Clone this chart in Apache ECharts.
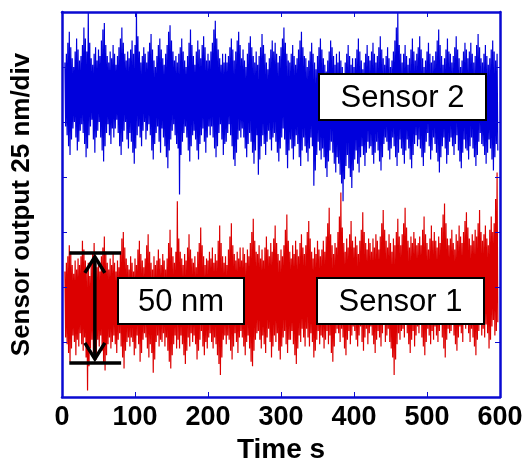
<!DOCTYPE html>
<html>
<head>
<meta charset="utf-8">
<script src="https://cdn.jsdelivr.net/npm/echarts@6/dist/echarts.min.js"></script>
<style>
  html, body { margin: 0; padding: 0; background: #ffffff; }
  #chart { width: 529px; height: 462px; }
</style>
</head>
<body>
<div id="chart"></div>
<script>
// Sampling of the recorded traces: peak sample at START + STEP*k, trough sample half a step later
const START_S = 4;
const STEP_S = 2;

// Sensor 1 output (nm): successive peaks and troughs
const sensor1Peaks = [
  57, 61, 64, 69, 66, 60, 56, 62, 58, 63, 60,
  64, 71, 67, 62, 58, 61, 55, 60, 65, 70, 63,
  59, 62, 57, 64, 68, 73, 66, 61, 58, 63, 60,
  65, 61, 57, 62, 59, 66, 72, 75, 68, 63, 60,
  58, 64, 61, 57, 63, 60, 67, 71, 65, 62, 59,
  63, 69, 74, 66, 61, 58, 64, 60, 62, 67, 63,
  60, 65, 62, 58, 63, 70, 76, 68, 64, 61, 66,
  89, 72, 66, 63, 60, 65, 62, 68, 74, 67, 63,
  61, 64, 59, 66, 70, 77, 69, 64, 60, 63, 62,
  66, 63, 68, 61, 65, 62, 71, 78, 70, 64, 61,
  64, 60, 67, 73, 79, 69, 65, 62, 66, 63, 68,
  62, 68, 65, 61, 67, 64, 70, 75, 81, 71, 66,
  65, 69, 63, 67, 62, 68, 73, 67, 64, 70, 66,
  72, 78, 70, 65, 62, 67, 64, 69, 76, 83, 71,
  66, 63, 69, 65, 71, 67, 64, 70, 74, 68, 65,
  69, 75, 80, 72, 66, 63, 68, 65, 71, 67, 64,
  67, 71, 66, 73, 79, 86, 74, 69, 65, 70, 68,
  75, 82, 93, 77, 70, 66, 72, 68, 74, 80, 71,
  68, 73, 69, 65, 71, 76, 84, 75, 70, 67, 72,
  70, 66, 72, 68, 74, 71, 67, 73, 79, 85, 76,
  71, 68, 74, 70, 66, 72, 69, 75, 81, 73, 69,
  74, 79, 86, 77, 71, 68, 73, 70, 75, 72, 69,
  70, 73, 69, 76, 82, 74, 70, 67, 72, 78, 71,
  75, 71, 68, 73, 70, 77, 83, 88, 79, 72, 69,
  72, 76, 70, 67, 74, 71, 78, 73, 70, 75, 80,
  84, 77, 72, 69, 74, 71, 76, 73, 79, 85, 75,
  71, 74, 78, 72, 69, 76, 82, 75, 79, 90, 102
];
const sensor1Troughs = [
  27, 24, 20, 16, 22, 28, 25, 19, 26, 23, 29,
  24, 21, 27, 18, 3, 14, 22, 26, 20, 25, 17,
  26, 23, 28, 21, 15, 12, 19, 24, 27, 22, 25,
  28, 24, 20, 26, 29, 23, 18, 13, 21, 25, 27,
  23, 27, 25, 19, 22, 28, 24, 16, 20, 26, 29,
  27, 22, 18, 24, 20, 11, 17, 25, 28, 23, 26,
  25, 29, 23, 27, 21, 16, 13, 19, 24, 28, 22,
  26, 22, 28, 24, 19, 15, 21, 27, 23, 29, 25,
  28, 24, 17, 21, 26, 30, 23, 19, 25, 22, 27,
  29, 25, 22, 27, 24, 19, 15, 10, 18, 26, 28,
  24, 28, 26, 21, 17, 23, 29, 25, 20, 27, 30,
  27, 23, 19, 25, 28, 22, 16, 14, 21, 26, 29,
  30, 26, 22, 28, 24, 20, 27, 31, 25, 18, 23,
  28, 25, 29, 21, 17, 23, 27, 30, 24, 20, 26,
  26, 30, 24, 19, 15, 22, 28, 25, 31, 27, 23,
  31, 27, 23, 29, 25, 18, 21, 26, 30, 24, 28,
  27, 22, 26, 30, 24, 28, 20, 16, 23, 29, 31,
  29, 25, 31, 27, 22, 19, 26, 30, 24, 28, 32,
  30, 26, 23, 28, 32, 25, 21, 27, 31, 24, 29,
  32, 28, 24, 20, 26, 30, 27, 23, 29, 33, 25,
  28, 31, 25, 22, 18, 10, 17, 24, 29, 26, 30,
  31, 27, 33, 29, 24, 20, 26, 30, 23, 28, 32,
  29, 33, 27, 23, 19, 25, 31, 28, 24, 30, 26,
  32, 28, 25, 30, 34, 27, 22, 18, 26, 31, 29,
  30, 34, 28, 24, 21, 27, 32, 29, 25, 33, 31,
  33, 29, 25, 31, 27, 23, 19, 26, 30, 34, 28,
  31, 27, 33, 29, 22, 26, 32, 35, 28, 30, 34
];

// Sensor 2 output (nm): successive peaks and troughs
const sensor2Peaks = [
  152, 156, 161, 166, 159, 154, 150, 157, 163, 158, 153,
  155, 160, 168, 163, 157, 175, 161, 154, 151, 156, 159,
  153, 158, 155, 162, 167, 170, 160, 155, 152, 157, 154,
  160, 156, 151, 155, 159, 163, 168, 161, 156, 153, 157,
  154, 158, 162, 156, 160, 175, 164, 157, 152, 155, 159,
  156, 152, 157, 161, 165, 158, 153, 150, 155, 160, 163,
  158, 154, 151, 156, 160, 166, 169, 162, 157, 153, 155,
  152, 156, 159, 163, 157, 153, 150, 155, 161, 167, 160,
  155, 151, 157, 162, 158, 154, 160, 164, 159, 153, 156,
  153, 157, 161, 167, 171, 163, 158, 154, 151, 156, 152,
  156, 152, 155, 159, 163, 158, 153, 157, 162, 166, 160,
  154, 158, 153, 150, 156, 161, 164, 159, 155, 152, 157,
  151, 155, 159, 165, 160, 156, 152, 149, 154, 158, 162,
  157, 161, 156, 152, 155, 159, 163, 168, 161, 156, 153,
  152, 156, 160, 155, 151, 154, 158, 162, 166, 159, 155,
  154, 150, 153, 157, 161, 156, 152, 149, 155, 159, 163,
  158, 154, 151, 148, 153, 157, 162, 159, 155, 151, 156,
  152, 157, 153, 150, 147, 152, 156, 160, 155, 151, 154,
  150, 154, 158, 163, 157, 153, 149, 152, 156, 160, 155,
  153, 157, 161, 156, 152, 155, 159, 164, 158, 154, 151,
  155, 159, 154, 150, 153, 157, 162, 168, 175, 160, 156,
  152, 156, 160, 155, 151, 154, 158, 163, 157, 153, 156,
  159, 164, 158, 154, 150, 153, 157, 161, 156, 152, 155,
  153, 157, 162, 167, 160, 155, 151, 154, 158, 163, 157,
  156, 152, 155, 159, 164, 158, 154, 150, 153, 157, 161,
  158, 154, 157, 161, 156, 152, 155, 160, 165, 159, 154,
  152, 156, 160, 155, 151, 154, 158, 162, 157, 153, 156
];
const sensor2Troughs = [
  123, 119, 114, 110, 117, 122, 125, 118, 112, 116, 121,
  124, 120, 115, 109, 113, 119, 123, 126, 117, 111, 118,
  121, 125, 118, 112, 107, 114, 120, 124, 119, 115, 122,
  118, 122, 126, 120, 114, 110, 116, 121, 125, 117, 113,
  120, 116, 111, 106, 113, 119, 123, 118, 114, 121, 125,
  117, 121, 124, 119, 112, 108, 115, 120, 123, 116, 111,
  122, 118, 114, 109, 104, 112, 117, 121, 124, 119, 115,
  113, 92, 110, 116, 120, 123, 118, 112, 107, 114, 119,
  121, 117, 112, 108, 115, 119, 122, 116, 111, 118, 123,
  119, 123, 118, 113, 109, 114, 120, 124, 117, 110, 115,
  116, 120, 124, 119, 114, 108, 105, 111, 117, 121, 118,
  122, 118, 113, 109, 115, 120, 116, 111, 106, 112, 119,
  101, 108, 114, 119, 115, 110, 116, 121, 117, 112, 118,
  120, 116, 111, 107, 113, 118, 122, 117, 110, 104, 112,
  117, 113, 108, 114, 119, 115, 109, 105, 112, 118, 114,
  111, 107, 113, 118, 114, 96, 103, 110, 116, 112, 108,
  113, 109, 104, 100, 107, 112, 116, 111, 106, 102, 109,
  106, 101, 97, 89, 99, 105, 110, 104, 100, 95, 103,
  108, 112, 106, 102, 109, 114, 110, 105, 111, 116, 113,
  114, 110, 106, 111, 116, 112, 107, 103, 109, 115, 118,
  116, 112, 108, 113, 118, 114, 109, 105, 111, 117, 113,
  110, 106, 112, 117, 113, 108, 104, 110, 115, 119, 114,
  117, 113, 109, 105, 111, 116, 120, 114, 108, 112, 118,
  115, 111, 107, 102, 109, 114, 118, 113, 106, 110, 116,
  118, 114, 110, 115, 119, 112, 107, 104, 111, 117, 113,
  112, 108, 114, 118, 113, 109, 105, 110, 116, 120, 115,
  114, 110, 106, 111, 117, 113, 108, 103, 109, 115, 112
];

// Axis ranges (time in s, output in nm, 25 nm per division)
const timeTicks = [0, 100, 200, 300, 400, 500, 600];
const outputRange = [0, 175];
const outputDivision = 25;

// 50 nm scale bar: its two ends (nm), the time span of its end caps and where the arrow stands (s)
const scaleBarEnds = [15.5, 65.5];
const scaleBarSpan = [10, 81];
const scaleBarAt = 45;

function buildTrace(peaks, troughs) {
  const pts = [];
  for (let k = 0; k < peaks.length; k++) {
    const t = START_S + STEP_S * k;
    pts.push([t, peaks[k]]);
    pts.push([t + STEP_S / 2, troughs[k]]);
  }
  return pts;
}

const FONT = '"Liberation Sans", Arial, sans-serif';
const BLUE = '#0000dc';
const RED = '#dc0000';
const FRAME = '#0a0ad2';

const chart = echarts.init(document.getElementById('chart'), null, { renderer: 'canvas' });

const tickStyle = { show: true, inside: true, length: 5, lineStyle: { color: FRAME, width: 1 } };
const frameLine = { show: true, onZero: false, lineStyle: { color: FRAME, width: 2.5 } };

function boxLabel(x, y, w, h, text) {
  return {
    type: 'group',
    left: x, top: y,
    z: 100,
    children: [
      { type: 'rect', z: 100, shape: { x: 0, y: 0, width: w, height: h },
        style: { fill: '#ffffff', stroke: '#000000', lineWidth: 2 } },
      { type: 'text', z: 101, x: w / 2, y: h / 2 + 1,
        style: { text: text, fill: '#000000', font: '31px ' + FONT, align: 'center', verticalAlign: 'middle' } }
    ]
  };
}

chart.setOption({
  animation: false,
  backgroundColor: '#ffffff',
  grid: { left: 62, right: 29, top: 12, bottom: 65, containLabel: false, outerBoundsMode: 'none' },
  xAxis: [
    {
      type: 'value', min: timeTicks[0], max: timeTicks[timeTicks.length - 1], interval: 100,
      position: 'bottom', z: 10,
      name: 'Time s', nameLocation: 'middle', nameGap: 38,
      nameTextStyle: { fontFamily: FONT, fontWeight: 'bold', fontSize: 28, color: '#000' },
      axisLine: frameLine, axisTick: tickStyle, splitLine: { show: false },
      axisLabel: { fontFamily: FONT, fontWeight: 'bold', fontSize: 27, color: '#000', margin: 7 }
    },
    {
      type: 'value', min: timeTicks[0], max: timeTicks[timeTicks.length - 1], interval: 100,
      position: 'top', z: 10,
      axisLine: frameLine, axisTick: tickStyle, splitLine: { show: false },
      axisLabel: { show: false }
    }
  ],
  yAxis: [
    {
      type: 'value', min: outputRange[0], max: outputRange[1], interval: outputDivision,
      position: 'left', z: 10,
      name: 'Sensor output 25 nm/div', nameLocation: 'middle', nameGap: 27, nameRotate: 90,
      nameTextStyle: { fontFamily: FONT, fontWeight: 'bold', fontSize: 26, color: '#000' },
      axisLine: frameLine, axisTick: tickStyle, splitLine: { show: false },
      axisLabel: { show: false }
    },
    {
      type: 'value', min: outputRange[0], max: outputRange[1], interval: outputDivision,
      position: 'right', z: 10,
      axisLine: frameLine, axisTick: tickStyle, splitLine: { show: false },
      axisLabel: { show: false }
    }
  ],
  series: [
    {
      name: 'Sensor 2', type: 'line', data: buildTrace(sensor2Peaks, sensor2Troughs),
      showSymbol: false, sampling: null, clip: true, z: 2,
      lineStyle: { color: BLUE, width: 1.2 }
    },
    {
      name: 'Sensor 1', type: 'line', data: buildTrace(sensor1Peaks, sensor1Troughs),
      showSymbol: false, sampling: null, clip: true, z: 3,
      lineStyle: { color: RED, width: 1.2 }
    },
    {
      name: 'scale', type: 'custom', z: 5, silent: true,
      data: [[scaleBarAt, scaleBarEnds[0], scaleBarEnds[1]]],
      renderItem: function (params, api) {
        const top = api.coord([scaleBarAt, scaleBarEnds[1]]);
        const bot = api.coord([scaleBarAt, scaleBarEnds[0]]);
        const capL = api.coord([scaleBarSpan[0], scaleBarEnds[1]])[0];
        const capR = api.coord([scaleBarSpan[1], scaleBarEnds[1]])[0];
        const st = { stroke: '#000', lineWidth: 3.5, fill: null };
        const head = 10, headH = 16;
        return {
          type: 'group',
          children: [
            { type: 'line', shape: { x1: capL, y1: top[1], x2: capR, y2: top[1] }, style: st },
            { type: 'line', shape: { x1: capL, y1: bot[1], x2: capR, y2: bot[1] }, style: st },
            { type: 'line', shape: { x1: top[0], y1: top[1] + 4, x2: bot[0], y2: bot[1] - 4 }, style: st },
            { type: 'polyline', shape: { points: [[top[0] - head, top[1] + 4 + headH], [top[0], top[1] + 4], [top[0] + head, top[1] + 4 + headH]] }, style: st },
            { type: 'polyline', shape: { points: [[bot[0] - head, bot[1] - 4 - headH], [bot[0], bot[1] - 4], [bot[0] + head, bot[1] - 4 - headH]] }, style: st }
          ]
        };
      }
    }
  ],
  graphic: [
    boxLabel(318, 73, 167, 46, 'Sensor 2'),
    boxLabel(316, 277, 167, 46, 'Sensor 1'),
    boxLabel(117, 277, 126, 46, '50 nm')
  ]
});
</script>
</body>
</html>
